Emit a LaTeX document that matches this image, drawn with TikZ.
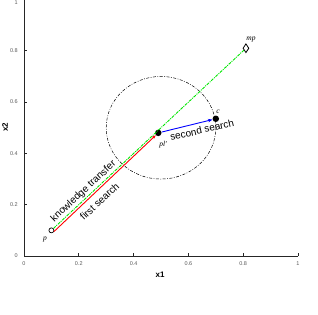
\documentclass[tikz,border=0pt]{standalone}
\usepackage{fontspec}
\setmainfont{Liberation Sans}
\newfontfamily\lblserif{Liberation Serif}
\usetikzlibrary{arrows.meta,shapes.geometric}
\definecolor{lime}{RGB}{0,230,0}
\definecolor{tickgray}{RGB}{90,90,90}
\tikzset{
  axisline/.style={line width=0.9pt, black!85},
  ticklabel/.style={font=\fontsize{5.5}{6}\selectfont, text=tickgray, inner sep=0pt},
  axislabel/.style={font=\fontsize{8}{9}\selectfont\bfseries, inner sep=0pt},
  ptlabel/.style={font=\fontsize{7.5}{8}\selectfont\lblserif\itshape, inner sep=0pt},
  pathlabel/.style={font=\fontsize{10}{11}\selectfont, inner sep=0pt},
  opencirc/.style={circle, draw=black, fill=white, line width=0.7pt, minimum size=5pt, inner sep=0pt},
  blackdot/.style={circle, fill=black, minimum size=6.5pt, inner sep=0pt},
  diam/.style={diamond, draw=black, fill=white, line width=0.8pt, minimum width=6pt, minimum height=9pt, inner sep=0pt},
  greenline/.style={lime, line width=0.9pt, dash pattern=on 3pt off 1pt on 1pt off 1pt},
  redarrow/.style={red, line width=0.9pt, -{Stealth[length=4pt,width=3pt]}},
  bluearrow/.style={blue, line width=0.9pt, -{Stealth[length=4.5pt,width=3.5pt]}},
  regionline/.style={black, line width=0.5pt, dash pattern=on 3pt off 1.5pt on 0.8pt off 1.5pt}
}
\begin{document}
\begin{tikzpicture}[x=1pt,y=1pt]
\useasboundingbox (0,0) rectangle (318,314);
\begin{scope}[shift={(24,58)}, x=274pt, y=256.5pt]
  % axes
  \coordinate (o) at (0,0);
  \coordinate (xend) at (1,0);
  \coordinate (yend) at (0,1);
  \draw[axisline] (yend) -- (o) -- (xend);
  \foreach \t in {0.2,0.4,0.6,0.8,1} {
    \draw[axisline] (\t,0) -- ++(0,3pt);
    \draw[axisline] (0,\t) -- ++(3pt,0);
  }
  % search region
  \draw[regionline] (0.5,0.5) ellipse [x radius=0.2, y radius=0.2];
  % points
  \node[opencirc] (p) at (0.1,0.1) {};
  \node[blackdot] (pl) at (0.49,0.48) {};
  \node[blackdot] (c) at (0.7,0.535) {};
  \node[diam] (mp) at (0.81,0.81) {};
  % connectors
  \draw[greenline] (p) -- (mp);
  \draw[redarrow] (p.-25) -- (pl);
  \draw[bluearrow] (pl) -- (c);
\end{scope}
% tick labels
\foreach \t/\s in {0/0,0.2/0.2,0.4/0.4,0.6/0.6,0.8/0.8} {
  \node[ticklabel] (xt\s) at ({24+274*\t},50) {\s};
  \node[ticklabel, anchor=east] (yt\s) at (18,{58+256.5*\t}) {\s};
}
\node[ticklabel] (xt1) at (298,50) {1};
\node[ticklabel, anchor=east] (yt1) at (18,311) {1};
\node[axislabel] (xl) at (160,39) {x1};
\node[axislabel, rotate=90] (yl) at (5,187) {x2};
% point labels
\node[ptlabel] (plab) at (45,74) {p};
\node[ptlabel] (pllab) at (163,169) {pl'};
\node[ptlabel] (clab) at (218,202) {c};
\node[ptlabel] (mplab) at (251,274) {mp};
% path labels
\node[pathlabel, rotate=42.8] (kt) at (83.5,122.5) {knowledge transfer};
\node[pathlabel, rotate=42.8] (fs) at (99.5,112.5) {first search};
\node[pathlabel, rotate=13] (ss) at (202,184) {second search};
\end{tikzpicture}
\end{document}
